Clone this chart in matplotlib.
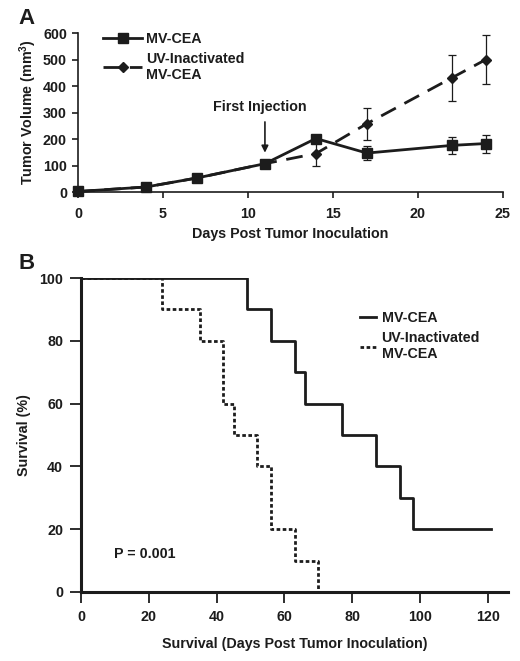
import matplotlib
matplotlib.use("Agg")
import matplotlib.pyplot as plt
from matplotlib.lines import Line2D

plt.rcParams['font.family'] = ['Liberation Sans', 'DejaVu Sans']
plt.rcParams['font.weight'] = 'bold'
plt.rcParams['mathtext.fontset'] = 'custom'
plt.rcParams['mathtext.rm'] = 'Liberation Sans:bold'
plt.rcParams['mathtext.it'] = 'Liberation Sans:bold'
plt.rcParams['mathtext.bf'] = 'Liberation Sans:bold'

INK = '#1c1c1c'
FS = 10.3

# panel A: tumor volume
days = [0, 4, 7, 11, 14, 17, 22, 24]
mv_vol = [2, 19, 53, 107, 202, 147, 176, 183]
mv_err = [0, 0, 0, 0, 0, 27, 32, 34]
uv_days = [0, 4, 7, 11, 14, 17, 22, 24]
uv_vol = [2, 19, 53, 107, 145, 258, 431, 500]
uv_err = [0, 0, 0, 0, 46, 60, 86, 91]

# panel B: survival
mv_t = [0, 49, 56, 63, 66, 77, 87, 94, 98, 121]
mv_surv = [100, 90, 80, 70, 60, 50, 40, 30, 20, 20]
uv_t = [0, 24, 35, 42, 45, 52, 56, 63, 70]
uv_surv = [100, 90, 80, 60, 50, 40, 20, 10, 0]

fig = plt.figure(figsize=(5.2, 6.61), dpi=100)

# ---- A ----
ax = fig.add_axes([0.15, 0.7095, 0.817, 0.2405])
e1 = ax.errorbar(days, mv_vol, yerr=mv_err, color=INK, lw=2.0, marker='s', ms=7.5,
                 capsize=3, elinewidth=0.9, capthick=0.9, zorder=3)
e2 = ax.errorbar(uv_days, uv_vol, yerr=uv_err, color=INK, lw=2.0, marker='D', ms=5,
                 dashes=(6, 3.5), capsize=3, elinewidth=0.9, capthick=0.9, zorder=2)
for e in (e1, e2):
    e[0].set_clip_on(False)
ax.set_xlim(0, 25)
ax.set_ylim(0, 600)
ax.set_xticks([0, 5, 10, 15, 20, 25])
ax.set_yticks([0, 100, 200, 300, 400, 500, 600])
for s in ['top', 'right']:
    ax.spines[s].set_visible(False)
for s in ['left', 'bottom']:
    ax.spines[s].set_linewidth(1.2)
    ax.spines[s].set_color(INK)
ax.tick_params(direction='out', length=4, width=1.2, colors=INK, labelsize=FS, pad=7)
ax.tick_params(axis='y', pad=4)
ax.set_xlabel('Days Post Tumor Inoculation', fontsize=FS, fontweight='bold', color=INK, labelpad=4)
ax.set_ylabel(r'Tumor Volume (mm$^{3}$)', fontsize=FS, fontweight='bold', color=INK, labelpad=3)
ax.text(10.7, 322, 'First Injection', ha='center', va='center', fontsize=FS,
        fontweight='bold', color=INK)
ax.annotate('', xy=(11, 138), xytext=(11, 275),
            arrowprops=dict(arrowstyle='-|>', color=INK, lw=1.2, mutation_scale=10))
h1 = Line2D([], [], color=INK, lw=2.0, marker='s', ms=7.5)
h2 = Line2D([], [], color=INK, lw=2.0, marker='D', ms=5, dashes=(6, 3.5))
leg = ax.legend([h1, h2], ['MV-CEA', 'UV-Inactivated\nMV-CEA'], loc='upper left',
                bbox_to_anchor=(0.045, 1.043), frameon=False, fontsize=FS,
                handlelength=2.75, handletextpad=0.25, labelspacing=0.4,
                borderaxespad=0)
for t in leg.get_texts():
    t.set_color(INK)
fig.text(0.035, 0.972, 'A', fontsize=16, fontweight='bold', color=INK, va='center', ha='left')

# ---- B ----
bx = fig.add_axes([0.156, 0.1044, 0.821, 0.475])
bx.step(mv_t, mv_surv, where='post', color=INK, lw=2.0)
bx.step(uv_t, uv_surv, where='post', color=INK, lw=2.0, dashes=(1.3, 0.9))
bx.set_xlim(0, 126)
bx.set_ylim(0, 100)
bx.set_xticks([0, 20, 40, 60, 80, 100, 120])
bx.set_yticks([0, 20, 40, 60, 80, 100])
for s in ['top', 'right']:
    bx.spines[s].set_visible(False)
for s in ['left', 'bottom']:
    bx.spines[s].set_linewidth(2.2)
    bx.spines[s].set_color(INK)
bx.spines['left'].set_zorder(5)
bx.tick_params(direction='out', length=8, width=1.3, colors=INK, labelsize=FS, pad=5)
bx.set_xlabel('Survival (Days Post Tumor Inoculation)', fontsize=FS, fontweight='bold',
              color=INK, labelpad=9)
bx.set_ylabel('Survival (%)', fontsize=FS, fontweight='bold', color=INK, labelpad=6)
bx.text(9.7, 12.1, 'P = 0.001', ha='left', va='center', fontsize=FS, fontweight='bold', color=INK)
g1 = Line2D([], [], color=INK, lw=2.0)
g2 = Line2D([], [], color=INK, lw=2.0, dashes=(1.3, 0.9))
leg2 = bx.legend([g1, g2], ['MV-CEA', 'UV-Inactivated\nMV-CEA'], loc='upper left',
                 bbox_to_anchor=(0.64, 0.912), frameon=False,
                 fontsize=FS, handlelength=1.1, handletextpad=0.4, labelspacing=0.4,
                 borderaxespad=0)
for t in leg2.get_texts():
    t.set_color(INK)
fig.text(0.035, 0.602, 'B', fontsize=16, fontweight='bold', color=INK, va='center', ha='left')

fig.savefig('out.png', dpi=100)
